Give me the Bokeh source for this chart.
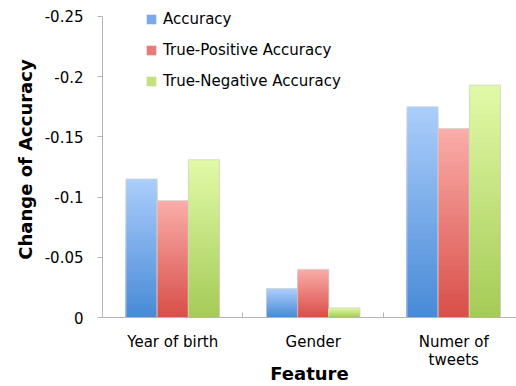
import numpy as np
from bokeh.plotting import figure
from bokeh.models import Range1d, FixedTicker, Legend, LegendItem
from bokeh.embed import file_html
from bokeh.resources import INLINE

# ---- data ----
categories = ["Year of birth", "Gender", "Numer of\ntweets"]
series_names = ["Accuracy", "True-Positive Accuracy", "True-Negative Accuracy"]
accuracy = [-0.115, -0.024, -0.175]
tp_accuracy = [-0.097, -0.040, -0.157]
tn_accuracy = [-0.131, -0.008, -0.193]
y_ticks = [0, -0.05, -0.1, -0.15, -0.2, -0.25]
y_tick_labels = ["0", "-0.05", "-0.1", "-0.15", "-0.2", "-0.25"]

# ---- styles ----
top_colors = ["#abcdfb", "#faaca8", "#e1f9a6"]
bottom_colors = ["#4689d6", "#d84d47", "#a4ca55"]
FONT = "DejaVu Sans"
TITLE_FONT = "DejaVu Sans"


def hex2rgb(h):
    h = h.lstrip("#")
    return np.array([int(h[i:i + 2], 16) for i in (0, 2, 4)], dtype=float)


def mix(c1, c2, t):
    c = hex2rgb(c1) * (1 - t) + hex2rgb(c2) * t
    return "#%02x%02x%02x" % tuple(int(round(v)) for v in c)


p = figure(width=516, height=386, output_backend="svg", toolbar_location=None,
           x_range=Range1d(0, 2.947), y_range=Range1d(0, -0.2624),
           min_border_left=102, min_border_right=0, min_border_top=1, min_border_bottom=67)
p.outline_line_color = None
p.grid.visible = False
p.background_fill_color = "white"
p.border_fill_color = "white"

n_groups = len(categories)
centers = np.arange(n_groups) + 0.5
bar_w = 0.222
offsets = [-bar_w, 0.0, bar_w]
all_series = [accuracy, tp_accuracy, tn_accuracy]
N = 40

legend_items = []
for s, vals in enumerate(all_series):
    vals = np.array(vals, dtype=float)
    xs = centers + offsets[s]
    legend_r = None
    # nested quads from full height (lightest) to shortest (darkest) -> vertical gradient
    for k in range(N):
        frac = (N - k) / N
        color = mix(bottom_colors[s], top_colors[s], frac)
        r = p.quad(left=xs - bar_w / 2, right=xs + bar_w / 2, bottom=np.zeros(n_groups),
                   top=vals * frac, fill_color=color, line_color=None)
        if k == N // 2:
            legend_r = r
    # thin light outline of each bar
    p.quad(left=xs - bar_w / 2, right=xs + bar_w / 2, bottom=np.zeros(n_groups),
           top=vals, fill_color=None, line_color="#d2d2d2", line_width=1, line_alpha=0.8)
    legend_items.append(LegendItem(label=series_names[s], renderers=[legend_r]))

legend = Legend(items=legend_items, location=(43, 226), padding=0, margin=0,
                glyph_width=12, glyph_height=12, label_standoff=6, spacing=11,
                label_height=20, border_line_color=None, background_fill_alpha=0,
                label_text_font=FONT, label_text_font_size="15px",
                label_text_color="black")
p.add_layout(legend)

# y axis
p.yaxis.ticker = FixedTicker(ticks=y_ticks)
p.yaxis.bounds = (min(y_ticks), max(y_ticks))
p.yaxis.major_label_overrides = {t: l for t, l in zip(y_ticks, y_tick_labels)}
p.yaxis.axis_label = "Change of Accuracy"
p.yaxis.axis_label_text_font = TITLE_FONT
p.yaxis.axis_label_text_font_style = "bold"
p.yaxis.axis_label_text_font_size = "18px"
p.yaxis.axis_label_text_color = "black"
p.yaxis.axis_label_standoff = 6
p.yaxis.major_label_text_font = FONT
p.yaxis.major_label_text_font_size = "15px"
p.yaxis.major_label_text_color = "black"
p.yaxis.major_label_standoff = 14
p.yaxis.axis_line_color = "#b4b4b4"
p.yaxis.major_tick_line_color = "#b4b4b4"
p.yaxis.major_tick_out = 5
p.yaxis.major_tick_in = 0
p.yaxis.minor_tick_line_color = None

# x axis
p.xaxis.ticker = FixedTicker(ticks=list(centers), minor_ticks=list(range(n_groups + 1)))
p.xaxis.major_label_overrides = {float(c): l for c, l in zip(centers, categories)}
p.xaxis.axis_label = "Feature"
p.xaxis.axis_label_text_font = TITLE_FONT
p.xaxis.axis_label_text_font_style = "bold"
p.xaxis.axis_label_text_font_size = "18px"
p.xaxis.axis_label_text_color = "black"
p.xaxis.axis_label_standoff = -9
p.xaxis.major_label_text_font = FONT
p.xaxis.major_label_text_font_size = "15px"
p.xaxis.major_label_text_color = "black"
p.xaxis.major_label_text_line_height = 1.0
p.xaxis.major_label_standoff = 9
p.xaxis.axis_line_color = "#b4b4b4"
p.xaxis.major_tick_line_color = None
p.xaxis.minor_tick_line_color = "#b4b4b4"
p.xaxis.minor_tick_in = 5
p.xaxis.minor_tick_out = 0

open("out.html", "w").write(file_html(p, INLINE))
